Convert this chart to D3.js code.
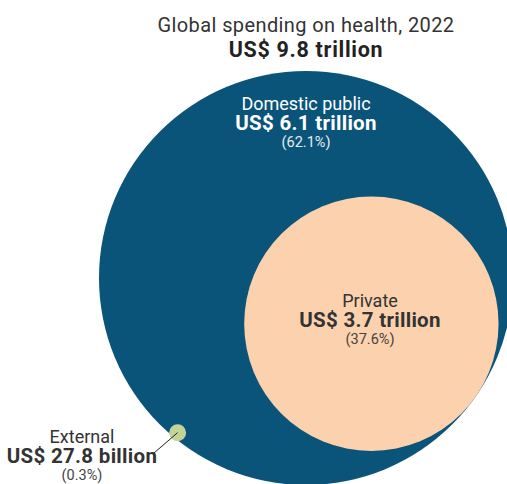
<!DOCTYPE html>
<html>
<head>
<meta charset="utf-8">
<script src="https://cdn.jsdelivr.net/npm/d3@7"></script>
<style>
  html, body { margin: 0; padding: 0; background: #fff; }
  svg { display: block; }
  text { font-family: "Roboto", "DejaVu Sans", sans-serif; }
</style>
</head>
<body>
<div id="chart"></div>
<script>
// ---- data ----
const categories = ["Domestic public", "Private", "External"];
const amounts = [6.1, 3.7, 0.0278];          // US$ trillion
const amountLabels = ["US$ 6.1 trillion", "US$ 3.7 trillion", "US$ 27.8 billion"];
const shares = ["(62.1%)", "(37.6%)", "(0.3%)"];
const totalValue = 9.8;
const titleLabel = "Global spending on health, 2022";
const totalLabel = "US$ 9.8 trillion";

// ---- layout ----
const W = 507, H = 484;
const svg = d3.select("#chart").append("svg").attr("width", W).attr("height", H);

const r = d3.scaleSqrt().domain([0, totalValue]).range([0, 207]);
const colors = d3.scaleOrdinal().domain(categories).range(["#0b5479", "#fcd1ad", "#c4d398"]);

const cx = 306, cy = 278;
const R = r(totalValue);
const rPriv = r(amounts[1]);
const angPriv = 35 * Math.PI / 180;
const px = cx + (R - rPriv) * Math.cos(angPriv);
const py = cy + (R - rPriv) * Math.sin(angPriv);
const angExt = 129.7 * Math.PI / 180;
const ex = cx + (R - 6) * Math.cos(angExt);
const ey = cy + (R - 6) * Math.sin(angExt);
const extMarkerR = 8.5;

svg.append("circle").attr("cx", cx).attr("cy", cy).attr("r", R).attr("fill", colors(categories[0]));
svg.append("circle").attr("cx", px).attr("cy", py).attr("r", rPriv).attr("fill", colors(categories[1]));
svg.append("circle").attr("cx", ex).attr("cy", ey).attr("r", extMarkerR).attr("fill", colors(categories[2]));

// leader line
svg.append("line").attr("x1", ex).attr("y1", ey).attr("x2", 154).attr("y2", 453)
  .attr("stroke", "#222").attr("stroke-width", 1);

function block(x, y, lines, fill, subFill) {
  const g = svg.append("g").attr("text-anchor", "middle");
  g.append("text").attr("x", x).attr("y", y).attr("font-size", 18).attr("fill", fill).text(lines[0]);
  g.append("text").attr("x", x).attr("y", y + 20).attr("font-size", 20.5).attr("font-weight", 700)
    .attr("letter-spacing", 0.3).attr("fill", fill).text(lines[1]);
  g.append("text").attr("x", x).attr("y", y + 37).attr("font-size", 14.5).attr("fill", subFill).text(lines[2]);
}

// title
svg.append("text").attr("x", 306).attr("y", 32).attr("text-anchor", "middle")
  .attr("font-size", 20).attr("letter-spacing", 0.4).attr("fill", "#333").text(titleLabel);
svg.append("text").attr("x", 306).attr("y", 57).attr("text-anchor", "middle")
  .attr("font-size", 21.5).attr("font-weight", 700).attr("letter-spacing", 0.7).attr("fill", "#222").text(totalLabel);

block(306, 110, [categories[0], amountLabels[0], shares[0]], "#fff", "#e6edf2");
block(370, 307, [categories[1], amountLabels[1], shares[1]], "#333", "#444");
block(82, 443, [categories[2], amountLabels[2], shares[2]], "#333", "#444");
</script>
</body>
</html>
